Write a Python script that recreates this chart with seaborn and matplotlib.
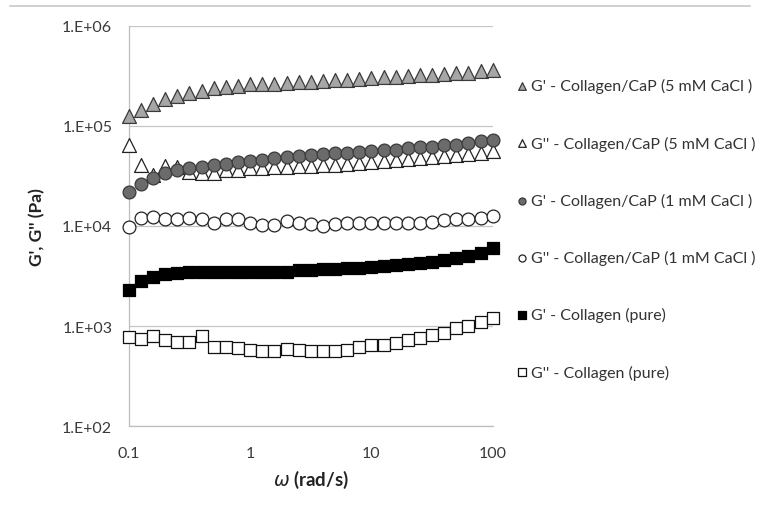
import numpy as np
import pandas as pd
import seaborn as sns
import matplotlib.pyplot as plt
from matplotlib.ticker import FixedLocator, FuncFormatter, NullLocator
from matplotlib.lines import Line2D

# angular frequency (rad/s), 10 points per decade
omega = [0.1, 0.126, 0.158, 0.2, 0.251, 0.316, 0.398, 0.501, 0.631, 0.794,
         1.0, 1.26, 1.58, 2.0, 2.51, 3.16, 3.98, 5.01, 6.31, 7.94,
         10.0, 12.6, 15.8, 20.0, 25.1, 31.6, 39.8, 50.1, 63.1, 79.4, 100.0]

g1_5mm = [1.25e5, 1.45e5, 1.65e5, 1.85e5, 2.0e5, 2.15e5, 2.25e5, 2.4e5, 2.45e5, 2.5e5,
          2.6e5, 2.6e5, 2.65e5, 2.7e5, 2.75e5, 2.75e5, 2.8e5, 2.85e5, 2.9e5, 2.95e5,
          3.0e5, 3.05e5, 3.1e5, 3.15e5, 3.2e5, 3.25e5, 3.3e5, 3.35e5, 3.4e5, 3.5e5, 3.65e5]
g2_5mm = [6.5e4, 4.1e4, 3.2e4, 4.0e4, 3.9e4, 3.5e4, 3.4e4, 3.4e4, 3.6e4, 3.6e4,
          3.8e4, 3.8e4, 3.9e4, 3.9e4, 4.0e4, 4.0e4, 4.1e4, 4.1e4, 4.2e4, 4.3e4,
          4.4e4, 4.5e4, 4.6e4, 4.7e4, 4.8e4, 4.9e4, 5.0e4, 5.1e4, 5.2e4, 5.4e4, 5.6e4]
g1_1mm = [2.2e4, 2.6e4, 3.0e4, 3.4e4, 3.6e4, 3.8e4, 3.9e4, 4.1e4, 4.2e4, 4.4e4,
          4.5e4, 4.6e4, 4.8e4, 4.9e4, 5.0e4, 5.1e4, 5.2e4, 5.3e4, 5.4e4, 5.5e4,
          5.6e4, 5.7e4, 5.8e4, 6.0e4, 6.1e4, 6.2e4, 6.4e4, 6.5e4, 6.7e4, 7.0e4, 7.3e4]
g2_1mm = [9.8e3, 1.2e4, 1.22e4, 1.18e4, 1.18e4, 1.2e4, 1.18e4, 1.08e4, 1.18e4, 1.18e4,
          1.08e4, 1.02e4, 1.02e4, 1.12e4, 1.08e4, 1.05e4, 1.0e4, 1.04e4, 1.06e4, 1.06e4,
          1.06e4, 1.08e4, 1.08e4, 1.08e4, 1.08e4, 1.1e4, 1.14e4, 1.18e4, 1.18e4, 1.2e4, 1.26e4]
g1_pure = [2.3e3, 2.8e3, 3.1e3, 3.3e3, 3.4e3, 3.5e3, 3.5e3, 3.5e3, 3.5e3, 3.5e3,
           3.5e3, 3.5e3, 3.5e3, 3.5e3, 3.6e3, 3.6e3, 3.7e3, 3.7e3, 3.8e3, 3.8e3,
           3.9e3, 4.0e3, 4.1e3, 4.2e3, 4.3e3, 4.4e3, 4.6e3, 4.8e3, 5.0e3, 5.4e3, 6.0e3]
g2_pure = [7.8e2, 7.5e2, 8.0e2, 7.2e2, 7.0e2, 7.0e2, 7.9e2, 6.2e2, 6.2e2, 6.0e2,
           5.7e2, 5.6e2, 5.6e2, 5.9e2, 5.7e2, 5.6e2, 5.6e2, 5.6e2, 5.8e2, 6.2e2,
           6.4e2, 6.4e2, 6.8e2, 7.2e2, 7.6e2, 8.1e2, 8.5e2, 9.5e2, 1.0e3, 1.1e3, 1.2e3]

labels = ["G' - Collagen/CaP (5 mM CaCl )",
          "G'' - Collagen/CaP (5 mM CaCl )",
          "G' - Collagen/CaP (1 mM CaCl )",
          "G'' - Collagen/CaP (1 mM CaCl )",
          "G' - Collagen (pure)",
          "G'' - Collagen (pure)"]
series = [g1_5mm, g2_5mm, g1_1mm, g2_1mm, g1_pure, g2_pure]

markers = ['^', '^', 'o', 'o', 's', 's']
faces = ['#a6a6a6', 'white', '#6b6b6b', 'white', 'black', 'white']
edges = ['#3a3a3a', '#222222', '#3a3a3a', '#222222', 'black', '#111111']
sizes = [100, 100, 85, 85, 85, 85]

df = pd.concat([pd.DataFrame({'omega': omega, 'G': vals, 'series': lab})
                for lab, vals in zip(labels, series)], ignore_index=True)

sns.set_theme(style='white')
plt.rcParams['font.family'] = ['Lato', 'DejaVu Sans']

fig = plt.figure(figsize=(7.58, 5.06), dpi=100)
ax = fig.add_axes([0.170, 0.156, 0.480, 0.791])

for i, lab in enumerate(labels):
    sns.scatterplot(data=df[df['series'] == lab], x='omega', y='G', ax=ax,
                    marker=markers[i], s=sizes[i], color=faces[i],
                    edgecolor=edges[i], linewidth=0.9, label=lab, zorder=3 + i)

ax.set_xscale('log')
ax.set_yscale('log')
ax.set_xlim(0.1, 100)
ax.set_ylim(1e2, 1e6)

ax.xaxis.set_major_locator(FixedLocator([0.1, 1, 10, 100]))
ax.xaxis.set_major_formatter(FuncFormatter(lambda v, p: '%g' % v))
ax.yaxis.set_major_locator(FixedLocator([1e2, 1e3, 1e4, 1e5, 1e6]))
ax.yaxis.set_major_formatter(FuncFormatter(lambda v, p: '1.E+%02d' % round(np.log10(v))))
ax.xaxis.set_minor_locator(NullLocator())
ax.yaxis.set_minor_locator(NullLocator())

ax.grid(axis='y', color='#c6c6c6', linewidth=0.9)
ax.grid(axis='x', visible=False)
for side in ['top', 'right']:
    ax.spines[side].set_visible(False)
for side in ['left', 'bottom']:
    ax.spines[side].set_color('#bdbdbd')
    ax.spines[side].set_linewidth(0.9)
ax.tick_params(axis='both', which='major', direction='out', length=4, width=0.8,
               color='#bdbdbd', labelsize=11.5, labelcolor='#3a3a3a')
ax.tick_params(axis='x', pad=10)
ax.tick_params(axis='y', pad=8)
for c in ax.collections:
    c.set_clip_on(False)

ax.set_ylabel("G', G'' (Pa)", fontsize=12.5, fontweight='bold', color='#222222', labelpad=12)
ax.set_xlabel(r"$\omega$ (rad/s)", fontsize=13.5, fontweight='bold', color='#222222', labelpad=6)

ax.legend(loc='upper left', bbox_to_anchor=(0.668, 0.859), bbox_transform=fig.transFigure,
          frameon=False, fontsize=11.5, labelspacing=2.64, handletextpad=0.05,
          handlelength=1.0, markerscale=0.55, borderpad=0, labelcolor='#333333')

# light rule across the top of the picture
fig.add_artist(Line2D([0.013, 0.99], [0.986, 0.986], transform=fig.transFigure,
                      color='#c8c8c8', linewidth=1.2))

fig.savefig('out.png', dpi=100)
